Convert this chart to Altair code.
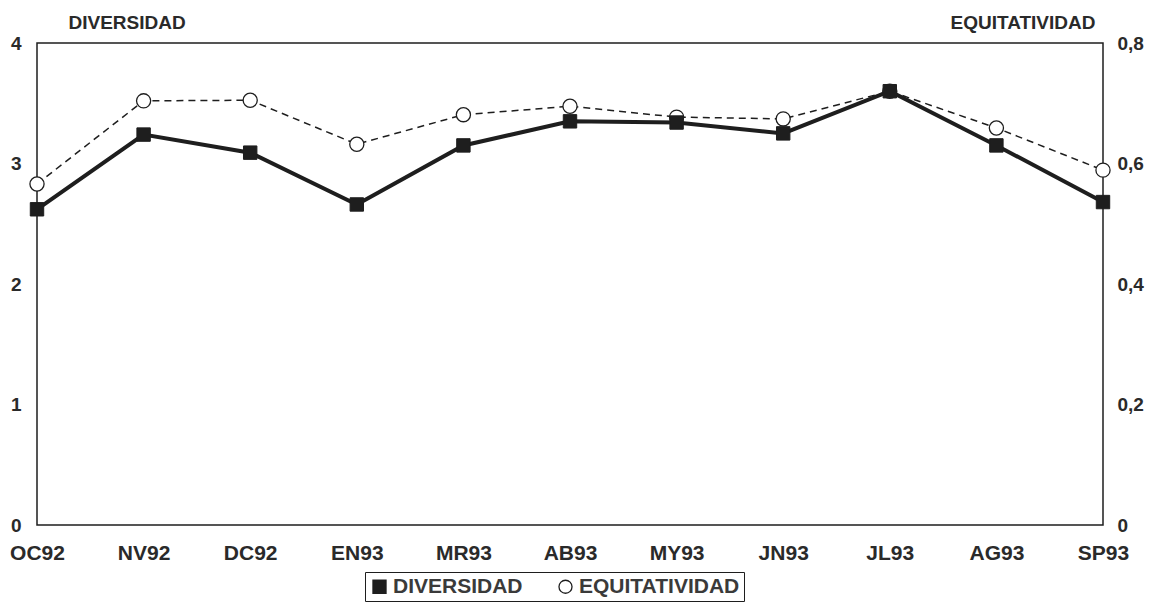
import altair as alt
import pandas as pd

meses = ["OC92", "NV92", "DC92", "EN93", "MR93", "AB93", "MY93", "JN93", "JL93", "AG93", "SP93"]
diversidad = [2.62, 3.24, 3.09, 2.66, 3.15, 3.35, 3.34, 3.25, 3.60, 3.15, 2.68]
equitatividad = [0.566, 0.704, 0.705, 0.632, 0.681, 0.695, 0.677, 0.674, 0.720, 0.659, 0.589]
series = ["DIVERSIDAD", "EQUITATIVIDAD"]

df_div = pd.DataFrame({"mes": meses, "valor": diversidad, "serie": series[0]})
df_equ = pd.DataFrame({"mes": meses, "valor": equitatividad, "serie": series[1]})

INK = "#1e1e1e"
FONT = "Liberation Sans"

x_enc = alt.X(
    "mes:N", sort=meses, scale=alt.Scale(padding=0),
    axis=alt.Axis(title=None, labelAngle=0, labelFontSize=21, labelFontWeight="bold",
                  labelFont=FONT, labelColor="#2a2a2a", labelPadding=17, tickSize=0,
                  domain=False, grid=False),
)

shape_enc = alt.Shape("serie:N", scale=alt.Scale(domain=series, range=["square", "circle"]),
                      legend=alt.Legend(title=None, orient="none", legendX=328, legendY=529,
                                        direction="horizontal", strokeColor=INK, padding=4,
                                        labelFont=FONT, labelFontSize=21, labelFontWeight="bold",
                                        labelColor="#3a3a3a", labelLimit=400,
                                        symbolSize=170, symbolStrokeColor=INK,
                                        symbolStrokeWidth=1.3, columnPadding=32,
                                        labelOffset=3))
fill_enc = alt.Fill("serie:N", scale=alt.Scale(domain=series, range=[INK, "white"]), legend=None)
stroke_enc = alt.Stroke("serie:N", scale=alt.Scale(domain=series, range=[INK, INK]), legend=None)

y_div = alt.Y("valor:Q", scale=alt.Scale(domain=[0, 4], nice=False),
              axis=alt.Axis(orient="left", values=[0, 1, 2, 3, 4], grid=False, domain=False,
                            tickSize=0, labelPadding=16, labelFontSize=19, labelFontWeight="bold",
                            labelFont=FONT, labelColor="#2a2a2a",
                            title="DIVERSIDAD", titleAngle=0, titleAlign="left",
                            titleBaseline="alphabetic", titleX=31, titleY=-15,
                            titleFontSize=19, titleFont=FONT, titleFontWeight="bold",
                            titleColor="#2a2a2a"))
y_equ = alt.Y("valor:Q", scale=alt.Scale(domain=[0, 0.8], nice=False),
              axis=alt.Axis(orient="right", values=[0, 0.2, 0.4, 0.6, 0.8], grid=False,
                            domain=False, tickSize=0, labelPadding=14, labelFontSize=19,
                            labelFontWeight="bold", labelFont=FONT, labelColor="#2a2a2a",
                            labelExpr="datum.value == 0 ? '0' : replace(format(datum.value, '.1f'), '.', ',')",
                            title="EQUITATIVIDAD", titleAngle=0, titleAlign="right",
                            titleBaseline="alphabetic", titleX=-8, titleY=-15,
                            titleFontSize=19, titleFont=FONT, titleFontWeight="bold",
                            titleColor="#2a2a2a"))

equ_line = alt.Chart(df_equ).mark_line(color=INK, strokeWidth=1.5, strokeDash=[7, 5]).encode(x=x_enc, y=y_equ)
equ_pts = alt.Chart(df_equ).mark_point(filled=True, size=200, strokeWidth=1.3, opacity=1).encode(
    x=x_enc, y=y_equ, shape=shape_enc, fill=fill_enc, stroke=stroke_enc)
equ = alt.layer(equ_line, equ_pts)

div_line = alt.Chart(df_div).mark_line(color=INK, strokeWidth=4).encode(x=x_enc, y=y_div)
div_pts = alt.Chart(df_div).mark_point(filled=True, size=180, strokeWidth=1, opacity=1).encode(
    x=x_enc, y=y_div, shape=shape_enc, fill=fill_enc, stroke=stroke_enc)
div = alt.layer(div_line, div_pts)

chart = alt.layer(equ, div).resolve_scale(y="independent").properties(
    width=1066, height=482,
    padding={"left": 29, "top": 35, "right": 50, "bottom": 78},
    autosize="none",
    background="white",
).configure_view(stroke=INK, strokeWidth=1.5)

chart.save("out.html", embed_options={"renderer": "svg", "actions": False})
